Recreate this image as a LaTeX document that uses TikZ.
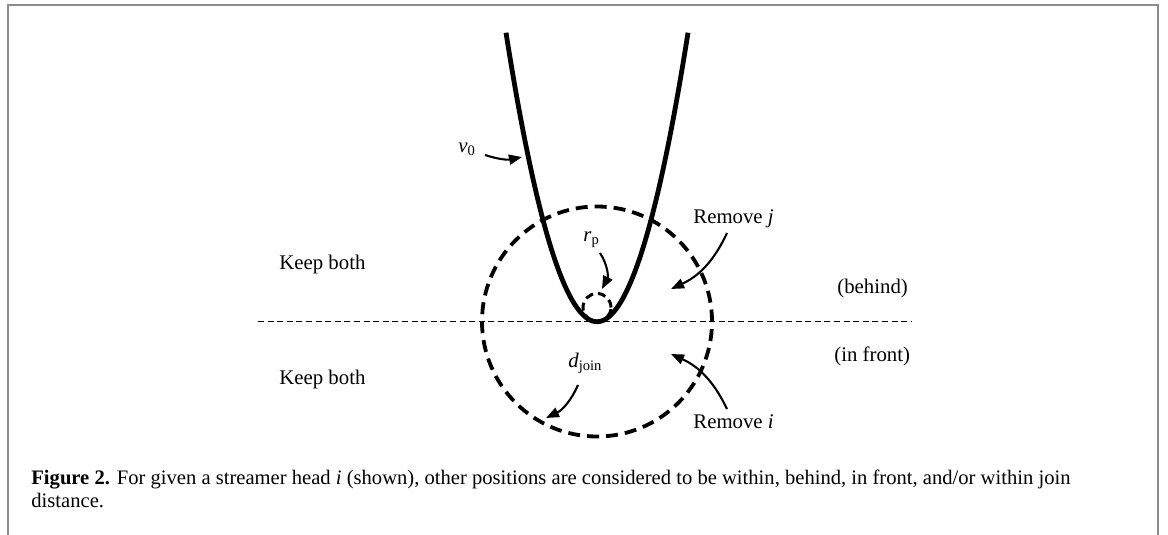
\documentclass[tikz,border=0pt]{standalone}
\usepackage{fontspec}
\setmainfont{Liberation Serif}
\usetikzlibrary{arrows.meta}
\begin{document}
\begin{tikzpicture}[x=0.5pt,y=-0.5pt,
  lbl/.style={inner sep=0pt,anchor=base west,font=\fontsize{10.4}{12}\selectfont},
  ptr/.style={line width=1.05pt,-{Triangle[length=6.5pt,width=5pt]}},
  zone/.style={line width=0.7pt,dash pattern=on 3pt off 1.8pt},
  joincirc/.style={line width=1.9pt,dash pattern=on 6pt off 3.5pt},
  framestyle/.style={line width=1pt,color=black!45}]
\useasboundingbox (0,0) rectangle (1168,535);
\draw[framestyle] (8,535) -- (8,5) -- (1158,5) -- (1158,535);
% geometry
\coordinate (c) at (597,321.5);
\draw[zone] (258,321.5) -- (912,321.5);
\draw[joincirc] (c) circle[radius=57.5pt];
\draw[joincirc,line width=1.5pt,dash pattern=on 4pt off 2.5pt] (597,307.5) circle[radius=7pt];
\draw[line width=2.4pt] plot[domain=-91:91,samples=120] ({597+\x},{321.7-0.0349*\x*\x});
% labels
\node[lbl] (nu) at (458,153) {\textit{ν}\textsubscript{0}};
\node[lbl] (kb1) at (279,270) {Keep both};
\node[lbl] (kb2) at (279,384) {Keep both};
\node[lbl] (rp) at (583,242) {\textit{r}\textsubscript{p}};
\node[lbl] (rj) at (693,223) {Remove \textit{j}};
\node[lbl] (beh) at (837,293) {(behind)};
\node[lbl] (inf) at (834,361) {(in front)};
\node[lbl] (dj) at (568,367) {\textit{d}\textsubscript{join}};
\node[lbl] (ri) at (693,428) {Remove \textit{i}};
% arrows
\coordinate (nu-s) at (485,155);
\coordinate (nu-e) at (522,157);
\coordinate (rp-s) at (600,253);
\coordinate (rp-e) at (602,289);
\coordinate (rj-s) at (727,233);
\coordinate (rj-e) at (671,289);
\coordinate (ri-s) at (727,409);
\coordinate (ri-e) at (671,354);
\coordinate (dj-s) at (578,385);
\coordinate (dj-e) at (546,418);
\draw[ptr] (nu-s) to[bend right=15] (nu-e);
\draw[ptr] (rp-s) to[bend left=30] (rp-e);
\draw[ptr] (rj-s) to[bend left=20] (rj-e);
\draw[ptr] (ri-s) to[bend right=20] (ri-e);
\draw[ptr] (dj-s) to[bend left=20] (dj-e);
% caption
\node[inner sep=0pt,anchor=base west,font=\fontsize{10.3}{11.5}\selectfont] (cap1) at (31,484) {\textbf{Figure 2.} For given a streamer head \textit{i} (shown), other positions are considered to be within, behind, in front, and/or within join};
\node[inner sep=0pt,anchor=base west,font=\fontsize{10.3}{11.5}\selectfont] (cap2) at (31,507) {distance.};
\end{tikzpicture}
\end{document}
